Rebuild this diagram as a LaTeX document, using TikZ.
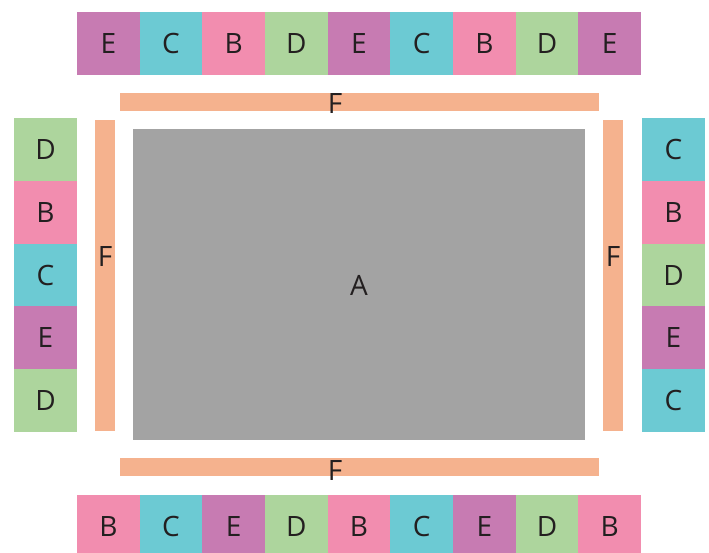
\documentclass[tikz,border=0pt]{standalone}
\usepackage{fontspec}
\setmainfont{Open Sans}
\definecolor{cE}{HTML}{C77BB2}
\definecolor{cC}{HTML}{6CCAD3}
\definecolor{cB}{HTML}{F28DAF}
\definecolor{cD}{HTML}{ADD59D}
\definecolor{cF}{HTML}{F5B28E}
\definecolor{cA}{HTML}{A3A3A3}
\definecolor{ink}{HTML}{231F20}
\begin{document}
\begin{tikzpicture}[x=1pt,y=-1pt,
  cell/.style={draw=none,inner sep=0pt,outer sep=0pt,anchor=north west,
    minimum width=62.67pt,minimum height=63pt,text=ink,
    font=\fontsize{28}{34}\selectfont},
  vcell/.style={cell,minimum width=63pt,minimum height=62.8pt},
  bar/.style={fill=cF,draw=none,inner sep=0pt,outer sep=0pt,anchor=north west},
  lbl/.style={inner sep=0pt,text=ink,font=\fontsize{28}{34}\selectfont}]
\useasboundingbox (0,0) rectangle (709,552);
% top row
\foreach \L [count=\i from 0] in {E,C,B,D,E,C,B,D,E}
  \node[cell,fill=c\L] (t\i) at ({77+62.67*\i},12) {\L};
% bottom row
\begin{scope}
\clip (0,0) rectangle (709,552);
\foreach \L [count=\i from 0] in {B,C,E,D,B,C,E,D,B}
  \node[cell,fill=c\L] (b\i) at ({77+62.67*\i},495) {\L};
\end{scope}
% left column
\foreach \L [count=\i from 0] in {D,B,C,E,D}
  \node[vcell,fill=c\L] (l\i) at (14,{118+62.8*\i}) {\L};
% right column
\foreach \L [count=\i from 0] in {C,B,D,E,C}
  \node[vcell,fill=c\L] (r\i) at (642,{118+62.8*\i}) {\L};
% F bars
\node[bar,minimum width=479pt,minimum height=18pt] (ft) at (120,93) {};
\node[bar,minimum width=479pt,minimum height=18pt] (fb) at (120,458) {};
\node[bar,minimum width=20pt,minimum height=311pt] (fl) at (95,120) {};
\node[bar,minimum width=20pt,minimum height=311pt] (fr) at (603,120) {};
\node[lbl] (ftl) at (335,104) {F};
\node[lbl] (fbl) at (335,470) {F};
\node[lbl] (fll) at (105,257) {F};
\node[lbl] (frl) at (613,257) {F};
% A
\node[fill=cA,draw=none,inner sep=0pt,outer sep=0pt,anchor=north west,
  minimum width=452pt,minimum height=311pt] (a) at (133,129) {};
\node[lbl] (al) at (359,285) {A};
\end{tikzpicture}
\end{document}
